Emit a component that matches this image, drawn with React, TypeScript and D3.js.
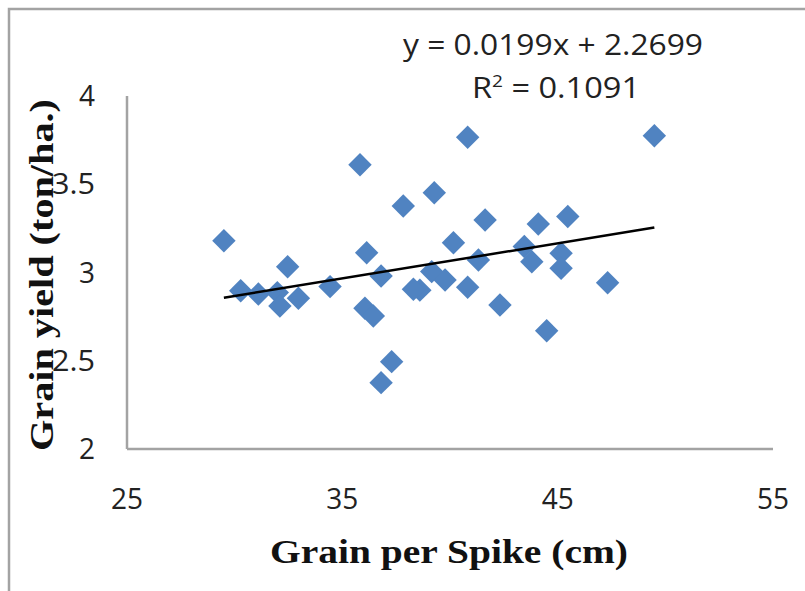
import React from "react";
import * as d3 from "d3";

const grainPerSpike = [
  35.82, 39.27, 37.83, 29.5, 32.46, 36.13, 40.82, 49.49, 41.63, 44.1, 45.47, 40.16,
  43.45, 45.16, 41.32, 43.8, 45.16, 39.15, 39.77, 38.6, 40.82, 42.32, 47.32, 44.49,
  36.8, 38.3, 30.28, 31.1, 31.98, 32.1, 32.96, 34.43, 36.05, 36.44, 37.29, 36.8,
];
const grainYield = [
  3.61, 3.452, 3.377, 3.18, 3.033, 3.112, 3.766, 3.775, 3.297, 3.275, 3.317, 3.169,
  3.147, 3.109, 3.071, 3.061, 3.024, 3.005, 2.958, 2.9, 2.916, 2.816, 2.942, 2.67,
  2.98, 2.905, 2.897, 2.878, 2.886, 2.81, 2.854, 2.92, 2.797, 2.754, 2.495, 2.376,
];
const xTicks = [25, 35, 45, 55];
const yTicks = [2, 2.5, 3, 3.5, 4];
const slope = 0.0199;
const intercept = 2.2699;
const equationText = "y = 0.0199x + 2.2699";
const r2Value = "0.1091";
const xTitle = "Grain per Spike (cm)";
const yTitle = "Grain yield  (ton/ha.)";

export default function App() {
  const W = 805, H = 591;
  const x = d3.scaleLinear().domain([25, 55]).range([127, 773]);
  const y = d3.scaleLinear().domain([2, 4]).range([449, 96]);
  const data = grainPerSpike.map((v, i) => ({ x: v, y: grainYield[i] }));
  const xMin = d3.min(grainPerSpike) as number;
  const xMax = d3.max(grainPerSpike) as number;
  const line = d3.line<number>().x((v) => x(v)).y((v) => y(slope * v + intercept));
  const diamond = d3.symbol().type(d3.symbolDiamond2).size(350)();
  const gray = "#a3a3a3";
  const sans = "'Open Sans', 'Noto Sans', sans-serif";
  const serif = "'Liberation Serif', 'Times New Roman', serif";
  return (
    <svg width={W} height={H} style={{ position: "absolute", left: 0, top: 0, background: "#fff" }}>
      <rect x={0} y={0} width={W} height={H} fill="#fff" />
      {/* outer frame */}
      <path d={`M9,${H} L9,9 L${W},9`} fill="none" stroke={gray} strokeWidth={2.5} />
      {/* axes */}
      <line x1={x(25)} x2={x(25)} y1={y(4)} y2={y(2)} stroke={gray} strokeWidth={2.5} />
      <line x1={x(25)} x2={x(55)} y1={y(2)} y2={y(2)} stroke={gray} strokeWidth={2.5} />
      {/* x tick labels */}
      {xTicks.map((t) => (
        <text key={"x" + t} x={x(t)} y={509} textAnchor="middle" fontFamily={sans} fontSize={30}
          textLength={32} lengthAdjust="spacingAndGlyphs" fill="#222">{t}</text>
      ))}
      {/* y tick labels */}
      {yTicks.map((t) => {
        const s = String(t);
        return (
          <text key={"y" + t} x={95} y={y(t) + 10} textAnchor="end" fontFamily={sans} fontSize={30}
            textLength={s.length > 1 ? 43 : 16} lengthAdjust="spacingAndGlyphs" fill="#222">{s}</text>
        );
      })}
      {/* points */}
      {data.map((d, i) => (
        <path key={i} d={diamond as string} transform={`translate(${x(d.x)},${y(d.y)})`} fill="#5083c1" />
      ))}
      {/* trend line */}
      <path d={line([xMin, xMax]) as string} fill="none" stroke="#000" strokeWidth={2.5} />
      {/* equation */}
      <text x={553} y={55} textAnchor="middle" fontFamily={sans} fontSize={29} fill="#222"
        textLength={300} lengthAdjust="spacingAndGlyphs">{equationText}</text>
      <text x={556} y={98} textAnchor="middle" fontFamily={sans} fontSize={29} fill="#222"
        textLength={168} lengthAdjust="spacingAndGlyphs">
        R<tspan baselineShift="super" fontSize={17}>2</tspan> = {r2Value}
      </text>
      {/* axis titles */}
      <text x={449} y={563} textAnchor="middle" fontFamily={serif} fontWeight="bold" fontSize={34}
        textLength={358} lengthAdjust="spacingAndGlyphs" fill="#111">{xTitle}</text>
      <text transform={`translate(53,275) rotate(-90)`} textAnchor="middle" fontFamily={serif}
        fontWeight="bold" fontSize={34} textLength={352} lengthAdjust="spacingAndGlyphs" fill="#111">{yTitle}</text>
    </svg>
  );
}
